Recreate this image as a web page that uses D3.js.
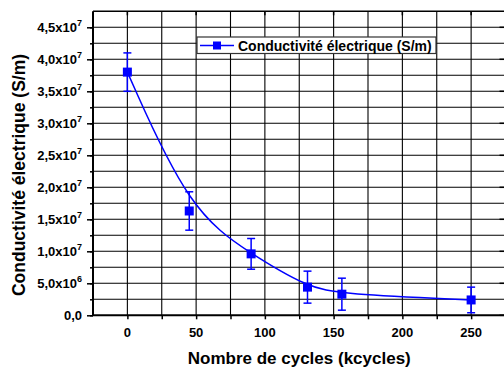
<!DOCTYPE html>
<html>
<head>
<meta charset="utf-8">
<script src="https://cdn.jsdelivr.net/npm/d3@7/dist/d3.min.js"></script>
<style>
  body { margin: 0; background: #fff; }
  svg { display: block; font-family: "Liberation Sans", Arial, sans-serif; font-weight: bold; }
</style>
</head>
<body>
<div id="chart"></div>
<script>
// ---- Data -------------------------------------------------------------
const cycles = [0, 45, 90, 131, 156, 250];                        // kcycles
const conductivity = [3.8e7, 1.63e7, 9.6e6, 4.4e6, 3.3e6, 2.4e6]; // S/m
const errors = [3.0e6, 3.0e6, 2.4e6, 2.5e6, 2.5e6, 2.0e6];

const xTicks = [0, 50, 100, 150, 200, 250];
const yTicks = [0, 5e6, 1e7, 1.5e7, 2e7, 2.5e7, 3e7, 3.5e7, 4e7, 4.5e7];
const yTickLabels = [
  ['0,0', ''], ['5,0x10', '6'], ['1,0x10', '7'], ['1,5x10', '7'], ['2,0x10', '7'],
  ['2,5x10', '7'], ['3,0x10', '7'], ['3,5x10', '7'], ['4,0x10', '7'], ['4,5x10', '7']
];
const seriesName = 'Conductivité électrique (S/m)';
const xTitle = 'Nombre de cycles (kcycles)';
const yTitle = 'Conductivité électrique (S/m)';

const dataset = cycles.map((c, i) => ({ x: c, y: conductivity[i], err: errors[i] }));

// ---- Dimensions -------------------------------------------------------
const dimensions = { width: 504, height: 369, left: 93, right: 505.5, top: 11.3, bottom: 315.3 };
const blue = '#0000ff';

const svg = d3.select('#chart')
  .append('svg')
  .attr('width', dimensions.width)
  .attr('height', dimensions.height);

// ---- Scales -----------------------------------------------------------
const xScale = d3.scaleLinear().domain([-25, 275]).range([dimensions.left, dimensions.right]);
const yScale = d3.scaleLinear().domain([0, 4.75e7]).range([dimensions.bottom, dimensions.top]);

const xMinor = d3.range(0, 251, 25);
const yMinor = d3.range(2.5e6, 4.6e7, 2.5e6);

// ---- Grid -------------------------------------------------------------
const grid = svg.append('g').attr('stroke', '#000').attr('stroke-width', 1.1);
grid.selectAll('.vgrid')
  .data(xMinor)
  .join('line')
  .attr('x1', d => xScale(d)).attr('x2', d => xScale(d))
  .attr('y1', dimensions.top).attr('y2', dimensions.bottom);
grid.selectAll('.hgrid')
  .data(yMinor)
  .join('line')
  .attr('y1', d => yScale(d)).attr('y2', d => yScale(d))
  .attr('x1', dimensions.left).attr('x2', dimensions.right);

// ---- Axes -------------------------------------------------------------
const xAxis = d3.axisBottom(xScale).tickValues(xMinor).tickSize(4).tickFormat('');
svg.append('g')
  .attr('transform', `translate(0,${dimensions.bottom})`)
  .call(xAxis)
  .call(g => g.select('.domain').attr('stroke-width', 2).attr('d', `M${dimensions.left},0H${dimensions.right}`))
  .call(g => g.selectAll('.tick line').attr('stroke-width', 1.5));

svg.append('g')
  .selectAll('text')
  .data(xTicks)
  .join('text')
  .attr('x', d => xScale(d))
  .attr('y', 337)
  .attr('text-anchor', 'middle')
  .attr('font-size', 13)
  .text(d => d);

const yAxis = d3.axisLeft(yScale).tickValues(yMinor.concat([0])).tickSize(3).tickFormat('');
svg.append('g')
  .attr('transform', `translate(${dimensions.left},0)`)
  .call(yAxis)
  .call(g => g.select('.domain').attr('stroke-width', 2).attr('d', `M0,${dimensions.top}V${dimensions.bottom}`))
  .call(g => g.selectAll('.tick line').attr('stroke-width', 1.5));

svg.append('g')
  .attr('transform', `translate(${dimensions.left},0)`)
  .call(d3.axisLeft(yScale).tickValues(yTicks).tickSize(6).tickFormat(''))
  .call(g => g.select('.domain').remove())
  .call(g => g.selectAll('.tick line').attr('stroke-width', 1.5));

const yLabels = svg.append('g')
  .selectAll('text')
  .data(yTicks)
  .join('text')
  .attr('x', 82)
  .attr('y', d => yScale(d) + 5)
  .attr('text-anchor', 'end')
  .attr('font-size', 13);
yLabels.append('tspan').text((d, i) => yTickLabels[i][0]);
yLabels.append('tspan')
  .attr('dy', -6)
  .attr('font-size', 9)
  .text((d, i) => yTickLabels[i][1]);

// top frame
svg.append('line')
  .attr('x1', dimensions.left).attr('x2', dimensions.right)
  .attr('y1', dimensions.top).attr('y2', dimensions.top)
  .attr('stroke', '#000').attr('stroke-width', 1.5);
svg.append('g')
  .attr('stroke', '#000').attr('stroke-width', 1.5)
  .selectAll('line')
  .data(xTicks)
  .join('line')
  .attr('x1', d => xScale(d)).attr('x2', d => xScale(d))
  .attr('y1', dimensions.top).attr('y2', dimensions.top + 4);
svg.append('g')
  .attr('stroke', '#000').attr('stroke-width', 1.5)
  .selectAll('line')
  .data(yTicks)
  .join('line')
  .attr('y1', d => yScale(d)).attr('y2', d => yScale(d))
  .attr('x1', dimensions.right - 6).attr('x2', dimensions.right);

// ---- Titles -----------------------------------------------------------
svg.append('text')
  .attr('x', (dimensions.left + dimensions.right) / 2)
  .attr('y', 364)
  .attr('text-anchor', 'middle')
  .attr('font-size', 17)
  .text(xTitle);

svg.append('text')
  .attr('transform', 'translate(25,175) rotate(-90)')
  .attr('text-anchor', 'middle')
  .attr('font-size', 17.5)
  .text(yTitle);

// ---- Series -----------------------------------------------------------
const line = d3.line()
  .x(d => xScale(d.x))
  .y(d => yScale(d.y))
  .curve(d3.curveBasis);

svg.append('path')
  .datum(dataset)
  .attr('d', line)
  .attr('fill', 'none')
  .attr('stroke', blue)
  .attr('stroke-width', 1.5);

const bars = svg.append('g').attr('stroke', blue).attr('stroke-width', 1.5);
bars.selectAll('.err')
  .data(dataset)
  .join('line')
  .attr('x1', d => xScale(d.x)).attr('x2', d => xScale(d.x))
  .attr('y1', d => yScale(d.y + d.err)).attr('y2', d => yScale(d.y - d.err));
bars.selectAll('.capTop')
  .data(dataset)
  .join('line')
  .attr('x1', d => xScale(d.x) - 4).attr('x2', d => xScale(d.x) + 4)
  .attr('y1', d => yScale(d.y + d.err)).attr('y2', d => yScale(d.y + d.err));
bars.selectAll('.capBottom')
  .data(dataset)
  .join('line')
  .attr('x1', d => xScale(d.x) - 4).attr('x2', d => xScale(d.x) + 4)
  .attr('y1', d => yScale(d.y - d.err)).attr('y2', d => yScale(d.y - d.err));

svg.append('g')
  .selectAll('rect')
  .data(dataset)
  .join('rect')
  .attr('x', d => xScale(d.x) - 4.5)
  .attr('y', d => yScale(d.y) - 4.5)
  .attr('width', 9)
  .attr('height', 9)
  .attr('fill', blue);

// ---- Legend -----------------------------------------------------------
const legend = svg.append('g');
legend.append('rect')
  .attr('x', 197).attr('y', 37)
  .attr('width', 239).attr('height', 16.5)
  .attr('fill', '#fff')
  .attr('stroke', '#333')
  .attr('stroke-width', 1.2);
legend.append('line')
  .attr('x1', 200).attr('x2', 234)
  .attr('y1', 45.5).attr('y2', 45.5)
  .attr('stroke', blue).attr('stroke-width', 1.5);
legend.append('rect')
  .attr('x', 213).attr('y', 41.5)
  .attr('width', 8).attr('height', 8)
  .attr('fill', blue);
legend.append('text')
  .attr('x', 238)
  .attr('y', 50.5)
  .attr('font-size', 14)
  .text(seriesName);
</script>
</body>
</html>
